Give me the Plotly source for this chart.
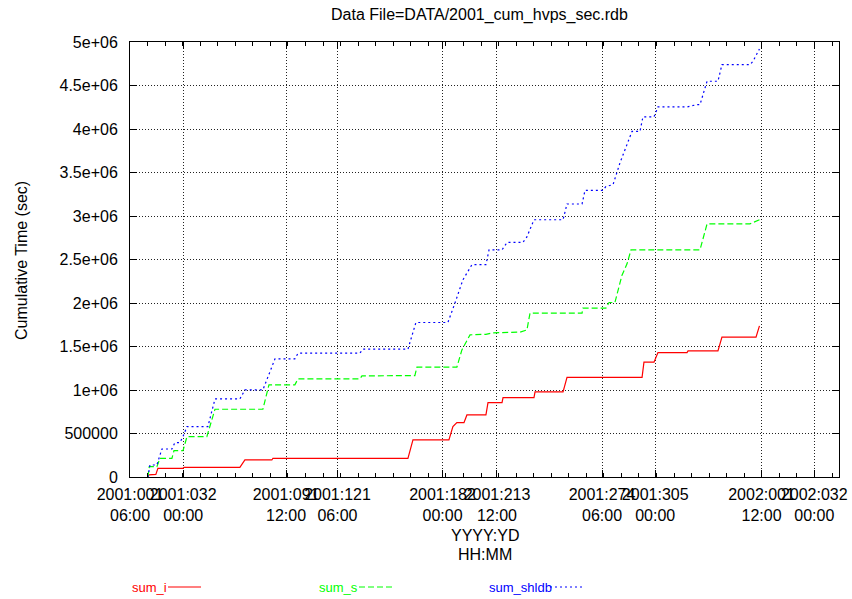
import pandas as pd
import plotly.graph_objects as go

# Elapsed days since 2001-01-01 00:00 and cumulative seconds for each series
sum_i_days = [10.6, 11.2, 15.2, 16.4, 30.9, 31.5, 63.8, 66.7, 82.3, 82.9, 161.0, 163.9,
              184.7, 187.0, 189.3, 193.4, 195.1, 206.1, 207.3, 215.4, 216.0, 233.9, 234.5,
              250.7, 253.0, 296.4, 297.5, 303.3, 305.6, 322.4, 323.0, 340.3, 342.6, 362.3, 364.3]
sum_i_secs = [0, 25000, 30000, 100000, 100000, 111000, 111000, 196000, 196000, 215000, 215000, 426000,
              426000, 579000, 625000, 625000, 713000, 713000, 855000, 855000, 913000, 913000, 978000,
              978000, 1145000, 1145000, 1320000, 1320000, 1430000, 1430000, 1450000, 1450000, 1607000,
              1607000, 1737000]

sum_s_days = [10.6, 11.4, 15.8, 17.6, 24.5, 25.7, 30.9, 33.2, 44.7, 49.4, 77.1, 80.6, 95.6, 97.4,
              133.2, 134.4, 165.0, 166.2, 189.3, 192.2, 196.9, 206.1, 210.2, 225.8, 229.8, 231.6,
              261.7, 262.2, 275.5, 277.3, 280.7, 284.8, 287.7, 290.0, 329.9, 334.0, 358.8, 364.3]
sum_s_secs = [0, 119000, 119000, 215000, 215000, 303000, 303000, 464000, 464000, 779000, 779000,
              1059000, 1059000, 1128000, 1128000, 1162000, 1166000, 1262000, 1262000, 1461000,
              1634000, 1640000, 1657000, 1665000, 1690000, 1884000, 1884000, 1941000, 1941000,
              2006000, 2006000, 2320000, 2450000, 2610000, 2610000, 2910000, 2910000, 2957000]

sum_shldb_days = [10.6, 11.8, 15.8, 18.7, 24.5, 26.2, 29.1, 30.9, 33.2, 45.3, 49.4, 63.8, 66.7, 77.1,
                  84.1, 95.6, 97.4, 133.2, 135.0, 161.0, 165.6, 184.1, 188.2, 192.8, 198.0, 206.1,
                  207.9, 215.4, 218.3, 227.5, 229.8, 233.9, 250.7, 253.0, 261.7, 263.4, 273.8, 275.5,
                  279.6, 283.6, 290.6, 295.2, 296.9, 303.3, 305.6, 322.4, 328.2, 329.9, 334.0, 340.3,
                  342.6, 358.8, 360.6, 364.3]
sum_shldb_secs = [0, 138000, 138000, 322000, 322000, 395000, 395000, 464000, 579000, 579000, 897000,
                  897000, 1001000, 1001000, 1358000, 1358000, 1423000, 1423000, 1469000, 1469000,
                  1776000, 1776000, 2000000, 2267000, 2440000, 2440000, 2610000, 2610000, 2696000,
                  2696000, 2760000, 2957000, 2957000, 3138000, 3138000, 3295000, 3295000, 3340000,
                  3360000, 3610000, 3973000, 3973000, 4139000, 4139000, 4254000, 4254000, 4280000,
                  4280000, 4549000, 4549000, 4740000, 4740000, 4780000, 4920000]

# Axis ticks
x_tick_days = [0.25, 31.0, 90.5, 120.25, 181.0, 212.5, 273.25, 304.0, 365.5, 396.0]
x_range_days = [0.25, 410.3]
y_tick_vals = [0, 500000, 1000000, 1500000, 2000000, 2500000, 3000000, 3500000, 4000000, 4500000, 5000000]
y_tick_text = ["0", "500000", "1e+06", "1.5e+06", "2e+06", "2.5e+06", "3e+06", "3.5e+06", "4e+06",
               "4.5e+06", "5e+06"]

series_names = ["sum_i", "sum_s", "sum_shldb"]
series_colors = ["#ff0000", "#00ff00", "#0000ff"]
series_dash = ["solid", "6px,3px", "2px,3px"]

EPOCH = pd.Timestamp("2001-01-01 00:00")


def to_time(days):
    return [EPOCH + pd.Timedelta(days=float(d)) for d in days]


# Page geometry (pixels)
W, H = 852, 599
L, R, T, B = 130, 13, 42, 122
PW, PH = W - L - R, H - T - B


def px(x):
    return (x - L) / PW


def py(y):
    return (H - B - y) / PH


FONT = "Liberation Sans, Arial, sans-serif"

fig = go.Figure()
all_days = [sum_i_days, sum_s_days, sum_shldb_days]
all_secs = [sum_i_secs, sum_s_secs, sum_shldb_secs]
for name, days, secs, color, dash in zip(series_names, all_days, all_secs, series_colors, series_dash):
    fig.add_trace(go.Scatter(
        x=to_time(days), y=secs, mode="lines", name=name,
        line=dict(color=color, width=1.2, dash=dash), showlegend=False,
    ))

tick_times = to_time(x_tick_days)
tick_text = [t.strftime("%Y:%j") + "<br>" + t.strftime("%H:%M") for t in tick_times]
r0, r1 = to_time(x_range_days)

fig.update_xaxes(
    type="date", range=[r0, r1], automargin=False,
    tickmode="array", tickvals=tick_times, ticktext=tick_text, tickangle=0,
    ticks="inside", ticklen=7, tickcolor="black", tickwidth=1,
    minor=dict(ticks="inside", ticklen=4, tickcolor="black",
               dtick=10.15 * 86400000, tick0=r0, showgrid=False),
    showline=True, linecolor="black", linewidth=1, mirror="ticks",
    showgrid=True, gridcolor="#222222", griddash="1px,2px", gridwidth=1,
    tickfont=dict(family=FONT, size=16, color="black"),
    ticklabelstandoff=3,
    zeroline=False,
)
fig.update_yaxes(
    range=[0, 5000000], automargin=False,
    tickmode="array", tickvals=y_tick_vals, ticktext=y_tick_text,
    ticks="inside", ticklen=7, tickcolor="black", tickwidth=1,
    showline=True, linecolor="black", linewidth=1, mirror="ticks",
    showgrid=True, gridcolor="#222222", griddash="1px,2px", gridwidth=1,
    tickfont=dict(family=FONT, size=16, color="black"),
    ticklabelstandoff=8,
    zeroline=False,
)

annotations = [
    dict(text="Data File=DATA/2001_cum_hvps_sec.rdb", xref="paper", yref="paper",
         x=px(479), y=py(15), xanchor="center", yanchor="middle", showarrow=False,
         font=dict(family=FONT, size=16, color="black")),
    dict(text="YYYY:YD", xref="paper", yref="paper", borderpad=0,
         x=px(485), y=py(535.5), xanchor="center", yanchor="middle", showarrow=False,
         font=dict(family=FONT, size=16, color="black")),
    dict(text="HH:MM", xref="paper", yref="paper", borderpad=0,
         x=px(485), y=py(554), xanchor="center", yanchor="middle", showarrow=False,
         font=dict(family=FONT, size=16, color="black")),
    dict(text="Cumulative Time (sec)", xref="paper", yref="paper", textangle=-90,
         x=px(21), y=py(260), xanchor="center", yanchor="middle", showarrow=False,
         font=dict(family=FONT, size=16, color="black")),
]

# Key below the plot: label followed by a line sample
key_text_x = [130, 317, 487]
key_line_x = [(168, 201), (359, 392), (550, 582)]
key_y = 587
shapes = []
for name, color, dash, tx, (lx0, lx1) in zip(series_names, series_colors, series_dash, key_text_x, key_line_x):
    annotations.append(dict(text=name, xref="paper", yref="paper", x=px(tx), y=py(key_y),
                            xanchor="left", yanchor="middle", showarrow=False,
                            font=dict(family=FONT, size=13, color=color)))
    shapes.append(dict(type="line", xref="paper", yref="paper", x0=px(lx0), x1=px(lx1),
                       y0=py(key_y), y1=py(key_y), line=dict(color=color, width=1.2, dash=dash)))

fig.update_layout(
    width=W, height=H, autosize=False,
    margin=dict(l=L, r=R, t=T, b=B),
    paper_bgcolor="white", plot_bgcolor="white",
    annotations=annotations, shapes=shapes,
    showlegend=False,
)

fig.write_html("out.html")
